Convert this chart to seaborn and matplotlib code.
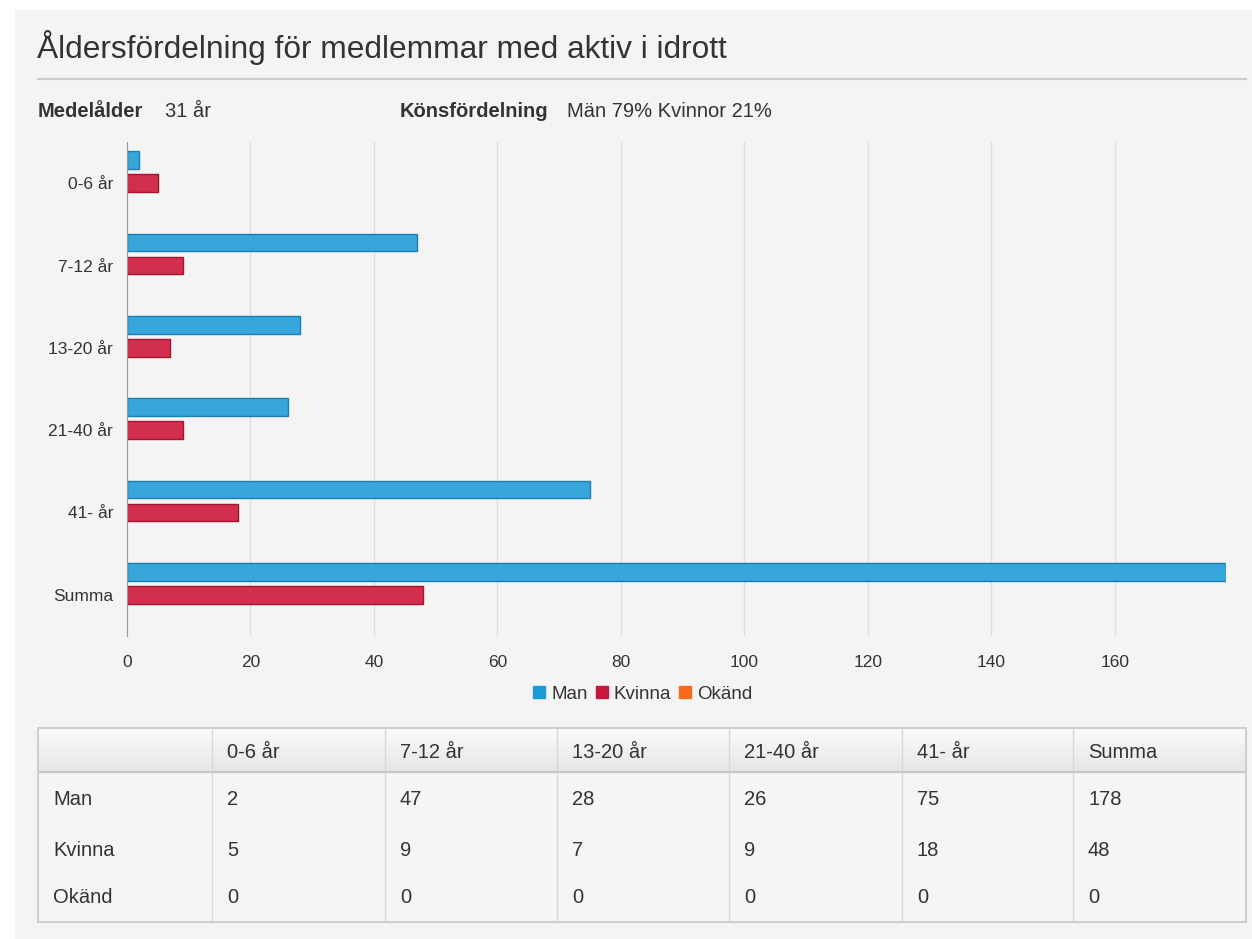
import numpy as np
import pandas as pd
import matplotlib.pyplot as plt
import seaborn as sns
from matplotlib.colors import LinearSegmentedColormap
from matplotlib.lines import Line2D
from matplotlib.patches import Rectangle

# data
grupper = ['0-6 år', '7-12 år', '13-20 år', '21-40 år', '41- år', 'Summa']
kon = ['Man', 'Kvinna', 'Okänd']
man = [2, 47, 28, 26, 75, 178]
kvinna = [5, 9, 7, 9, 18, 48]
okand = [0, 0, 0, 0, 0, 0]
x_ticks = [0, 20, 40, 60, 80, 100, 120, 140, 160]

titel = 'Åldersfördelning för medlemmar med aktiv i idrott'
medelalder = '31 år'
konsfordelning = 'Män 79% Kvinnor 21%'

fill = {'Man': '#36a6db', 'Kvinna': '#d22e4e', 'Okänd': '#f7691e'}
edge = {'Man': '#1a7fb2', 'Kvinna': '#a8142f', 'Okänd': '#c9500f'}
legend_col = {'Man': '#1a9bd7', 'Kvinna': '#c8173c', 'Okänd': '#f7691e'}

df = pd.DataFrame({
    'grupp': grupper * 3,
    'kön': ['Man'] * 6 + ['Kvinna'] * 6 + ['Okänd'] * 6,
    'antal': man + kvinna + okand,
})

sns.set_style('white')
plt.rcParams['font.family'] = ['Liberation Sans', 'DejaVu Sans']
txt = '#333333'

W, H = 1252, 939
fig = plt.figure(figsize=(W / 100, H / 100), dpi=100)
fig.patch.set_facecolor('white')

def fx(px):
    return px / W

def fy(py):
    return 1 - py / H

# grey panel
fig.patches.append(Rectangle((fx(15), 0), 1 - fx(15), fy(10), transform=fig.transFigure,
                             facecolor='#f4f4f4', edgecolor='none', zorder=-10))

fig.text(fx(37), fy(58), titel, fontsize=22.8, color=txt, va='baseline', ha='left')
fig.add_artist(Line2D([fx(38), fx(1246)], [fy(79), fy(79)], transform=fig.transFigure,
                      color='#cccccc', lw=1.6))
fig.text(fx(38), fy(117), 'Medelålder', fontsize=14.5, fontweight='bold', color=txt, va='baseline')
fig.text(fx(165), fy(117), medelalder, fontsize=14.5, color=txt, va='baseline')
fig.text(fx(400), fy(117), 'Könsfördelning', fontsize=14.5, fontweight='bold', color=txt, va='baseline')
fig.text(fx(567), fy(117), konsfordelning, fontsize=14.5, color=txt, va='baseline')

# chart
ax = fig.add_axes([fx(127), fy(636), fx(1226) - fx(127), fy(142) - fy(636)])
ax.set_facecolor('none')
sns.barplot(data=df, y='grupp', x='antal', hue='kön', hue_order=kon, order=grupper,
            orient='h', palette=fill, saturation=1, width=0.84, gap=0.24, legend=False, ax=ax)
for cont, k in zip(ax.containers, kon):
    for bar in cont:
        bar.set_edgecolor(edge[k])
        bar.set_linewidth(1.0)
        bar.set_zorder(3)
        if bar.get_width() == 0:
            bar.set_visible(False)

ax.set_xlim(0, 178)
ax.set_ylim(len(grupper) - 0.5, -0.5)
ax.set_xticks(x_ticks)
ax.set_xlabel('')
ax.set_ylabel('')
ax.xaxis.grid(True, color='#dedede', lw=1)
ax.set_axisbelow(True)
for s in ['top', 'right', 'bottom']:
    ax.spines[s].set_visible(False)
ax.spines['left'].set_color('#999999')
ax.spines['left'].set_zorder(4)
ax.tick_params(axis='x', length=0, pad=14, labelsize=12.5, labelcolor=txt)
ax.tick_params(axis='y', which='major', length=0, pad=10, labelsize=12.5, labelcolor=txt)
ax.set_yticks(np.arange(len(grupper) + 1) - 0.5, minor=True)
ax.tick_params(axis='y', which='minor', length=6, color='#999999', width=1)

handles = [Line2D([], [], marker='s', ls='none', markersize=8, color=legend_col[k],
                  label=k) for k in kon]
fig.legend(handles=handles, loc='center', bbox_to_anchor=(fx(643), fy(694)), ncol=3,
           frameon=False, fontsize=13.5, handlelength=0.6, handletextpad=0.35,
           columnspacing=0.45, labelcolor=txt)

# table
cols = [38, 212, 385, 557, 729, 902, 1073, 1246]
top, head_bot, bot = 728, 772, 922
tab = fig.add_axes([fx(38), fy(bot), fx(1246) - fx(38), fy(top) - fy(bot)])
tab.axis('off')
tab.add_patch(Rectangle((38, top), 1208, bot - top, facecolor='#f5f5f5', edgecolor='none'))
grad = LinearSegmentedColormap.from_list('g', ['#fbfbfb', '#e6e6e6'])
tab.imshow(np.linspace(0, 1, 50).reshape(-1, 1), cmap=grad, aspect='auto',
           extent=(38, 1246, head_bot, top), zorder=1)
tab.set_xlim(38, 1246)
tab.set_ylim(bot, top)
for c in cols[1:-1]:
    tab.plot([c, c], [top, bot], color='#d8d8d8', lw=1, zorder=2)
tab.plot([38, 1246], [head_bot, head_bot], color='#c8c8c8', lw=1.6, zorder=2)
tab.add_patch(Rectangle((38, top), 1208, bot - top, facecolor='none', edgecolor='#cfcfcf',
                        lw=1.5, zorder=3, clip_on=False))

for i, g in enumerate(grupper):
    tab.text(cols[i + 1] + 15, 758, g, fontsize=14.5, color=txt, va='baseline', zorder=4)
rader = [man, kvinna, okand]
rad_y = [805, 856, 903]
for k, vals, yy in zip(kon, rader, rad_y):
    tab.text(cols[0] + 15, yy, k, fontsize=14.5, color=txt, va='baseline', zorder=4)
    for i, v in enumerate(vals):
        tab.text(cols[i + 1] + 15, yy, str(v), fontsize=14.5, color=txt, va='baseline', zorder=4)

fig.savefig('out.png', dpi=100, facecolor=fig.get_facecolor())
